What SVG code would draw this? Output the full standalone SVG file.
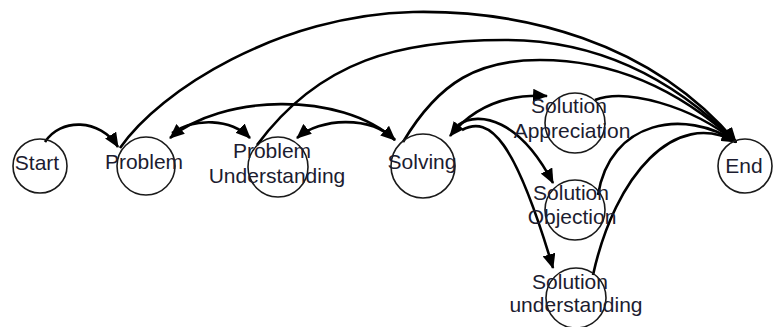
<svg xmlns="http://www.w3.org/2000/svg" width="774" height="327" viewBox="0 0 774 327">
<style>
.n{fill:none;stroke:#1a1a1a;stroke-width:1.6}
.t{font-family:"Liberation Sans",Arial,sans-serif;font-size:21px;fill:#1c1c30;text-anchor:middle}
.e{fill:none;stroke:#000;stroke-width:2.6}
.a{marker-end:url(#ah)}
.b{marker-start:url(#ah);marker-end:url(#ah)}
</style>
<defs>
<marker id="ah" markerUnits="userSpaceOnUse" markerWidth="15" markerHeight="13" refX="14" refY="6.5" orient="auto-start-reverse" viewBox="0 0 15 13">
<path d="M0,0 L15,6.5 L0,13 z" fill="#000"/>
</marker>
</defs>
<rect width="774" height="327" fill="#fff"/>
<g id="connectors">
<path class="e a" d="M45,142 C60,118 100,118 118,147"/>
<path class="e a" d="M120,148 C160,90 280,15 413,12 C520,10 650,40 736,142"/>
<path class="e a" d="M257,145 C320,60 400,40 505,40 C600,40 675,80 736,142"/>
<path class="e a" d="M403,142 C440,80 480,60 540,60 C620,60 685,95 736,142"/>
<path class="e a" d="M595,100 C625,88 690,105 736,142"/>
<path class="e a" d="M598,195 C610,120 685,108 736,142"/>
<path class="e a" d="M593,275 C615,175 675,108 736,142"/>
<path class="e b" d="M170,138 C220,95 340,90 395,140"/>
<path class="e a" d="M172,133 C195,118 230,118 250,138"/>
<path class="e a" d="M395,140 C370,115 320,118 297,138"/>
<path class="e b" d="M450,136 C475,105 510,94 547,96"/>
<path class="e a" d="M458,125 C480,110 520,120 553,183"/>
<path class="e a" d="M462,130 C490,115 515,140 553,268"/>
</g>
<g id="start"><circle class="n" cx="40" cy="166" r="27"/><text class="t" x="37" y="170">Start</text></g>
<g id="problem"><circle class="n" cx="146" cy="166" r="29"/><text class="t" x="144" y="169">Problem</text></g>
<g id="problem-understanding"><circle class="n" cx="278" cy="167" r="30"/><text class="t" x="272" y="158">Problem</text><text class="t" x="277" y="183">Understanding</text></g>
<g id="solving"><circle class="n" cx="423" cy="166" r="32"/><text class="t" x="422" y="169">Solving</text></g>
<g id="solution-appreciation"><circle class="n" cx="575" cy="123" r="30"/><text class="t" x="569" y="113">Solution</text><text class="t" x="572" y="138">Appreciation</text></g>
<g id="solution-objection"><circle class="n" cx="575" cy="210" r="30"/><text class="t" x="571" y="200">Solution</text><text class="t" x="572" y="224">Objection</text></g>
<g id="solution-understanding"><circle class="n" cx="576" cy="298" r="30"/><text class="t" x="570" y="289">Solution</text><text class="t" x="576" y="312">understanding</text></g>
<g id="end"><circle class="n" cx="745" cy="166" r="27"/><text class="t" x="744" y="173">End</text></g>
</svg>
